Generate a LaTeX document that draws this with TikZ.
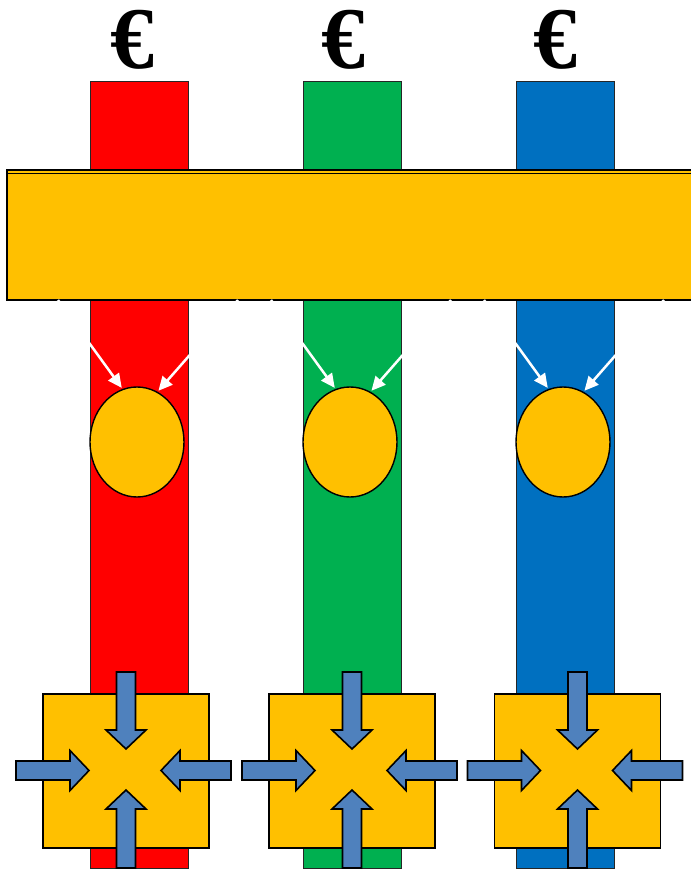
\documentclass[tikz,border=0pt]{standalone}
\usepackage{fontspec}
\newfontfamily\eurofont{Liberation Serif}
\usetikzlibrary{arrows.meta,shapes.geometric}
\definecolor{colred}{HTML}{FF0000}
\definecolor{colgreen}{HTML}{00B050}
\definecolor{colblue}{HTML}{0070C0}
\definecolor{goldy}{HTML}{FFC000}
\definecolor{arrblue}{HTML}{4F81BD}
\tikzset{
  colbox/.style={draw=black!85, line width=1pt, minimum width=98pt, minimum height=786pt, inner sep=0pt, outer sep=0pt},
  barbox/.style={draw=black, fill=goldy, line width=1.6pt, minimum width=693pt, minimum height=130pt, inner sep=0pt, outer sep=0pt},
  coin/.style={ellipse, draw=black, fill=goldy, line width=1.4pt, minimum width=94pt, minimum height=110pt, inner sep=0pt, outer sep=0pt},
  hub/.style={draw=black, fill=goldy, line width=1.5pt, minimum width=166pt, minimum height=154pt, inner sep=0pt, outer sep=0pt},
  eurolabel/.style={inner sep=0pt, font=\eurofont\bfseries\fontsize{88}{88}\selectfont},
  warrow/.style={draw=white, line width=2.5pt, -{Triangle[length=14pt,width=13pt]}, shorten >=2pt},
  bastyle/.style={draw=black, fill=arrblue, line width=1.6pt, line join=miter},
  pics/barrow/.style={code={\draw[bastyle] (-#1,-9.5)--(-19,-9.5)--(-19,-20)--(0,0)--(-19,20)--(-19,9.5)--(-#1,9.5)--cycle;}}
}
\begin{document}
\begin{tikzpicture}[x=1pt,y=-1pt]
\useasboundingbox (0,0) rectangle (690,869);
% columns
\foreach \i/\cx/\col in {1/139/colred, 2/352/colgreen, 3/565/colblue}{
  \node[colbox, fill=\col] (c\i) at (\cx,475) {};
}
% euro signs
\foreach \i/\ex in {1/132, 2/343, 3/555}{
  \node[eurolabel] (eur\i) at (\ex,40) {€};
}
% top bar
\node[barbox] (bar) at (353.5,235) {};
\draw[line width=1.2pt] (bar.north west) ++(0,3.5) coordinate (barline) -- ++(693,0);
% coins
\foreach \i/\cx in {1/139, 2/352, 3/565}{
  \node[coin] (e\i) at (\cx-2,442) {};
  \coordinate (wl\i) at (\cx-81,300);
  \coordinate (wr\i) at (\cx+99,300);
  \draw[warrow] (wl\i) -- (e\i.105);
  \draw[warrow] (wr\i) -- (e\i.68);
}
% hubs with block arrows
\foreach \i/\bx in {1/126, 2/352, 3/577.5}{
  \node[hub] (h\i) at (\bx,771) {};
  \pic[rotate=-90] at (\bx,749) {barrow=77};
  \pic[rotate=90] at (\bx,790) {barrow=78};
  \pic at (\bx-37,770.5) {barrow=73};
  \pic[rotate=180] at (\bx+35,770.5) {barrow=70};
}
\end{tikzpicture}
\end{document}
